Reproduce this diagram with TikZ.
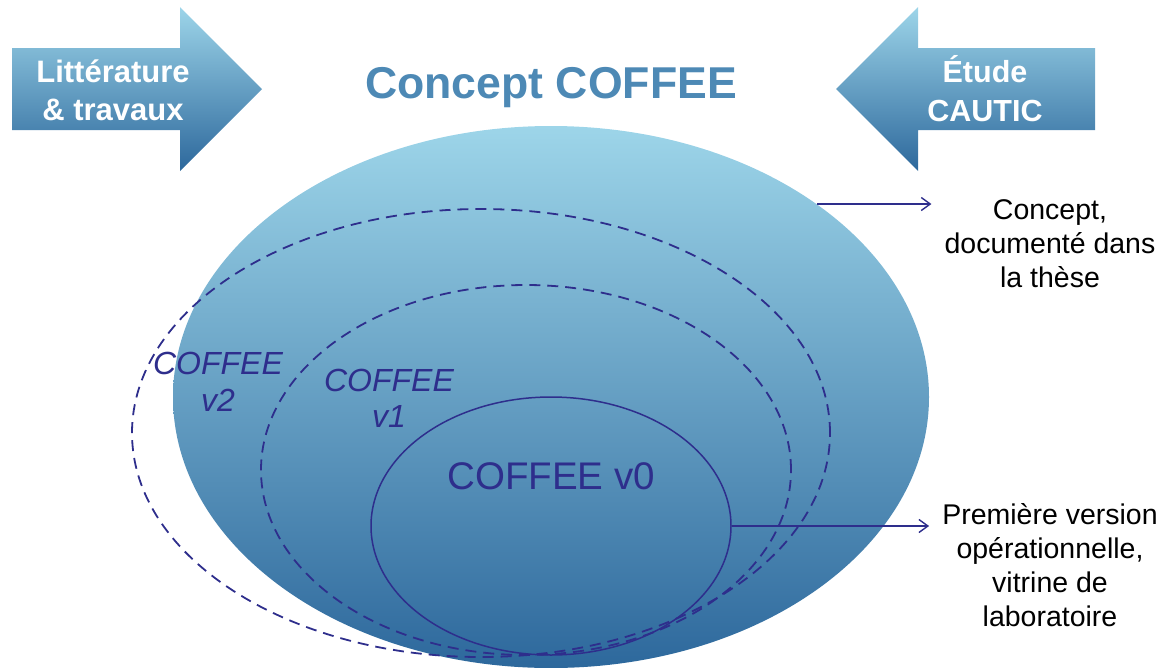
\documentclass[tikz,border=0pt]{standalone}
\usepackage{fontspec}
\setmainfont{Liberation Sans}
\usepackage{xcolor}
\usetikzlibrary{positioning,arrows.meta,calc,shapes.geometric}
\definecolor{skytop}{RGB}{157,213,233}
\definecolor{skybot}{RGB}{45,104,156}
\definecolor{ink}{RGB}{46,46,140}
\definecolor{titleblue}{RGB}{77,137,181}

\begin{document}
\begin{tikzpicture}[
  x=1pt, y=-1pt,
  blob/.style={ellipse, inner sep=0pt, draw=none,
               top color=skytop, bottom color=skybot},
  ring/.style={ellipse, draw=ink, line width=1.5pt, inner sep=0pt},
  dashring/.style={ring, line width=1.8pt, dash pattern=on 11pt off 7pt},
  vlbl/.style={text=ink, align=center,
               font=\fontsize{32}{37}\selectfont\itshape},
  side/.style={align=center, inner xsep=13pt, inner ysep=0pt,
               font=\fontsize{28.5}{34}\selectfont},
  intext/.style={text=white, align=center,
                 font=\fontsize{31}{38}\selectfont\bfseries},
  inshade/.style={top color=skytop, bottom color=skybot},
  conn/.style={-{Straight Barb[length=9pt,width=13pt]}, draw=ink,
               line width=1.4pt}
]
\useasboundingbox (0,0) rectangle (1165,667);
% input arrows
\shade[inshade] (12,48) -- (180,48) -- (180,7) -- (262,89)
  -- (180,171) -- (180,130) -- (12,130) -- cycle;
\shade[inshade] (1095,48) -- (918,48) -- (918,7) -- (836,89)
  -- (918,171) -- (918,130) -- (1095,130) -- cycle;
\node[intext] (lit) at (113,90) {Littérature\\\& travaux};
\node[intext, font=\fontsize{30.5}{39}\selectfont\bfseries]
  (cautic) at (985,89) {Étude\\CAUTIC};
\node[font=\fontsize{44.6}{50}\selectfont\bfseries, text=titleblue,
      anchor=base] (title) at (551,98) {Concept COFFEE};
% concept and versions
\node[blob, minimum width=756pt, minimum height=542pt] (big) at (551,397) {};
\node[dashring, minimum width=698pt, minimum height=448pt] (v2) at (481,433) {};
\node[dashring, minimum width=530pt, minimum height=370pt] (v1) at (526,470) {};
\node[ring, minimum width=360pt, minimum height=258pt] (v0) at (551,526) {};
\node[vlbl] (v2lbl) at (218,382) {COFFEE\\v2};
\node[vlbl, font=\fontsize{32}{36}\selectfont\itshape]
  (v1lbl) at (389,398) {COFFEE\\v1};
\node[text=ink, font=\fontsize{38.5}{44}\selectfont, anchor=base]
  (v0lbl) at (551,489) {COFFEE v0};
% side notes
\node[side] (concept) at (1050,244) {Concept,\\documenté dans\\la thèse};
\node[side] (prem) at (1050,565)
  {Première version\\opérationnelle,\\vitrine de\\laboratoire};
\draw[conn] (big.36) -- (big.36 -| concept.west);
\draw[conn] (v0.east) -- (v0.east -| prem.west);
\end{tikzpicture}
\end{document}
